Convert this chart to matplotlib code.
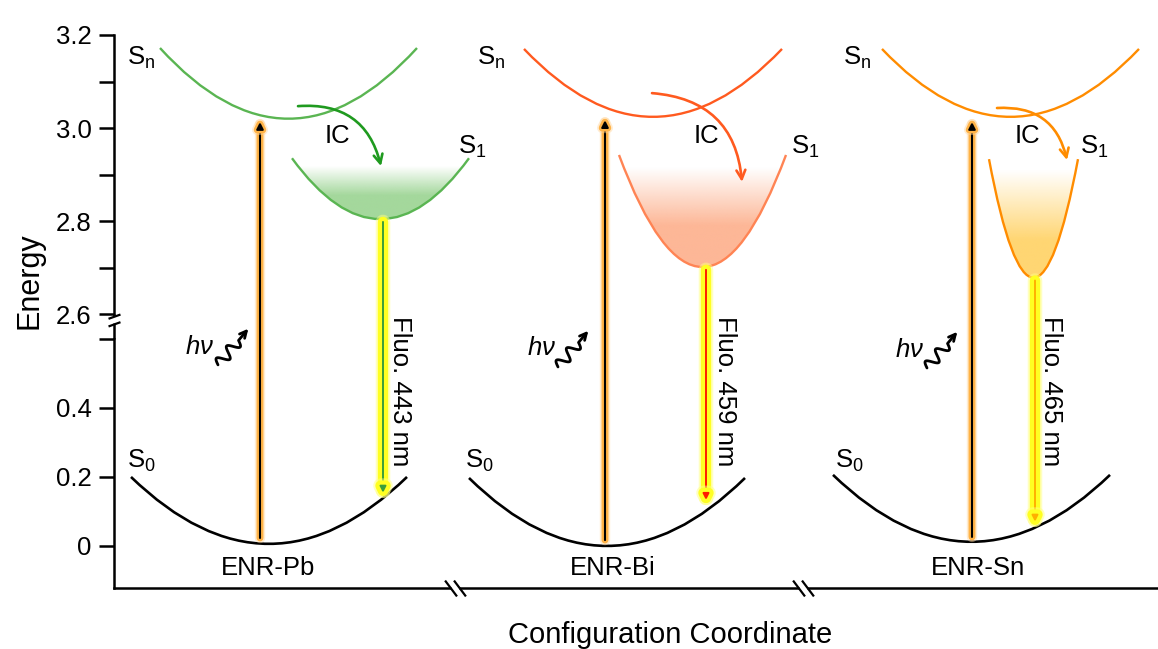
import matplotlib
matplotlib.use("Agg")
import matplotlib.pyplot as plt
import numpy as np
from matplotlib.path import Path
from matplotlib.patches import PathPatch, ConnectionPatch, FancyArrowPatch
from matplotlib.colors import to_rgb
import matplotlib.patheffects as pe
import matplotlib.transforms as mtransforms

plt.rcParams['font.family'] = ['Liberation Sans', 'DejaVu Sans']
plt.rcParams['mathtext.fontset'] = 'custom'
plt.rcParams['mathtext.rm'] = 'Liberation Sans'
plt.rcParams['mathtext.it'] = 'Liberation Sans:italic'

# --- data (x = configuration coordinate, a.u.; E = energy) ---
compounds = ['ENR-Pb', 'ENR-Bi', 'ENR-Sn']
fluo_nm = [443, 459, 465]

# Sn potential curves: left end x, right end x, end energy, minimum energy
sn_left = [0.46, 4.10, 7.68]
sn_right = [3.03, 6.68, 10.25]
sn_end = [3.172, 3.170, 3.170]
sn_min = [3.020, 3.024, 3.024]

# S1 potential curves
s1_left = [1.78, 5.05, 8.75]
s1_right = [3.55, 6.72, 9.64]
s1_end = [2.935, 2.942, 2.933]
s1_min = [2.804, 2.701, 2.678]
s1_fill_top = [2.918, 2.914, 2.910]
s1_fill_full = [2.855, 2.790, 2.760]

# S0 potential curves
s0_left = [0.17, 3.55, 7.19]
s0_right = [2.93, 6.31, 9.96]
s0_end = [0.200, 0.197, 0.206]
s0_min = [0.006, 0.000, 0.012]

# excitation (absorption) arrows
exc_x = [1.46, 4.91, 8.58]
exc_bottom = [0.023, 0.017, 0.026]
exc_top = [3.013, 3.017, 3.013]

# fluorescence arrows
fluo_x = [2.69, 5.92, 9.21]
fluo_top = [2.798, 2.695, 2.672]
fluo_bottom = [0.154, 0.133, 0.070]
fluo_text_x = [2.86, 6.11, 9.37]

# internal conversion arrows
ic_start_x = [1.84, 5.38, 8.83]
ic_start_e = [3.047, 3.075, 3.043]
ic_end_x = [2.67, 6.28, 9.53]
ic_end_e = [2.918, 2.884, 2.931]
ic_text_x = [2.23, 5.92, 9.13]

# label positions
sn_lab_x = [0.13, 3.63, 7.29]
s1_lab_x = [3.44, 6.77, 9.66]
s0_lab_x = [0.13, 3.51, 7.21]
name_x = [1.54, 4.99, 8.64]
hv_text_x = [0.86, 4.28, 7.96]
hv_text_e = [0.577, 0.574, 0.568]
hv_arrow_x = [1.04, 4.44, 8.13]
hv_arrow_e = [0.525, 0.519, 0.516]

x_breaks = [3.41, 6.89]

# --- styles ---
sn_colors = ['#5ab552', '#ff5a1f', '#ff8c00']
s1_colors = ['#5ab552', '#ff8454', '#ff8c00']
ic_colors = ['#1f9a1f', '#ff5a1f', '#ff8c00']
fill_colors = ['#a4d89c', '#fdb797', '#ffd673']
fluo_colors = ['#3a9e3a', '#ff1a00', '#ffb000']

W, H = 1158, 649
fig = plt.figure(figsize=(W / 100, H / 100), dpi=100)
ax_top = fig.add_axes([114 / W, 1 - 314 / H, 1044 / W, 279 / H])
ax_bot = fig.add_axes([114 / W, 1 - 588 / H, 1044 / W, 249 / H])

for ax in (ax_top, ax_bot):
    ax.set_xlim(0, 10.44)
    ax.set_xticks([])
    ax.spines['top'].set_visible(False)
    ax.spines['right'].set_visible(False)
    for s in ax.spines.values():
        s.set_linewidth(1.8)
    ax.tick_params(axis='y', direction='out', length=11, width=1.8, pad=5,
                   labelsize=18.5, which='both')
    ax.patch.set_visible(False)
ax_top.spines['bottom'].set_visible(False)

ax_top.set_ylim(2.6, 3.2)
ax_top.set_yticks([2.6, 2.8, 3.0, 3.2])
ax_top.set_yticks([2.7, 2.9, 3.1], minor=True)
ax_top.set_yticklabels(['2.6', '2.8', '3.0', '3.2'])
ax_bot.set_ylim(-0.122, 0.6)
ax_bot.set_yticks([0, 0.2, 0.4, 0.6])
ax_bot.set_yticklabels(['0', '0.2', '0.4', ''])


def parabola(xl, xr, e_end, e_min, closed=False):
    xc = (xl + xr) / 2
    verts = [(xl, e_end), (xc, 2 * e_min - e_end), (xr, e_end)]
    codes = [Path.MOVETO, Path.CURVE3, Path.CURVE3]
    if closed:
        verts.append((xl, e_end))
        codes.append(Path.CLOSEPOLY)
    return Path(verts, codes)


glow_exc = [pe.Stroke(linewidth=7.5, foreground='#ffd59a', alpha=0.45, capstyle='round'),
            pe.Stroke(linewidth=5, foreground='#ffb347', capstyle='round'),
            pe.Normal()]
glow_fluo = [pe.Stroke(linewidth=10.5, foreground='#ffff80', alpha=0.5, capstyle='round'),
             pe.Stroke(linewidth=7.5, foreground='#ffff22', capstyle='round'),
             pe.Normal()]

for i, name in enumerate(compounds):
    # Sn curve
    ax_top.add_patch(PathPatch(parabola(sn_left[i], sn_right[i], sn_end[i], sn_min[i]),
                               fill=False, edgecolor=sn_colors[i], lw=1.7, zorder=3))
    # S1 curve with gradient fill
    clip = PathPatch(parabola(s1_left[i], s1_right[i], s1_end[i], s1_min[i], closed=True),
                     facecolor='none', edgecolor='none')
    ax_top.add_patch(clip)
    e = np.linspace(s1_min[i], s1_end[i], 200)
    alpha = np.clip((s1_fill_top[i] - e) / (s1_fill_top[i] - s1_fill_full[i]), 0, 1)
    rgba = np.zeros((len(e), 1, 4))
    rgba[:, 0, :3] = to_rgb(fill_colors[i])
    rgba[:, 0, 3] = alpha
    im = ax_top.imshow(rgba, extent=[s1_left[i], s1_right[i], s1_min[i], s1_end[i]],
                       origin='lower', aspect='auto', interpolation='bilinear', zorder=1)
    im.set_clip_path(clip)
    ax_top.add_patch(PathPatch(parabola(s1_left[i], s1_right[i], s1_end[i], s1_min[i]),
                               fill=False, edgecolor=s1_colors[i], lw=1.7, zorder=3))
    # S0 curve
    ax_bot.add_patch(PathPatch(parabola(s0_left[i], s0_right[i], s0_end[i], s0_min[i]),
                               fill=False, edgecolor='black', lw=1.9, zorder=3))

    # excitation arrow (crosses the axis break)
    con = ConnectionPatch(xyA=(exc_x[i], exc_bottom[i]), coordsA=ax_bot.transData,
                          xyB=(exc_x[i], exc_top[i]), coordsB=ax_top.transData,
                          arrowstyle='-|>', mutation_scale=10, lw=1.5, color='black',
                          zorder=5, path_effects=glow_exc)
    fig.add_artist(con)
    # fluorescence arrow
    con = ConnectionPatch(xyA=(fluo_x[i], fluo_top[i]), coordsA=ax_top.transData,
                          xyB=(fluo_x[i], fluo_bottom[i]), coordsB=ax_bot.transData,
                          arrowstyle='-|>', mutation_scale=9, lw=1.4, color=fluo_colors[i],
                          zorder=5, path_effects=glow_fluo)
    fig.add_artist(con)
    ax_bot.text(fluo_text_x[i], 0.449, f'Fluo. {fluo_nm[i]} nm', rotation=270,
                ha='center', va='center', fontsize=18.5, zorder=6)

    # internal conversion
    ax_top.annotate('', xy=(ic_end_x[i], ic_end_e[i]), xytext=(ic_start_x[i], ic_start_e[i]),
                    arrowprops=dict(arrowstyle='->', connectionstyle='arc3,rad=-0.42',
                                    color=ic_colors[i], lw=1.9, mutation_scale=16,
                                    shrinkA=0, shrinkB=0), zorder=4)
    ax_top.text(ic_text_x[i], 2.982, 'IC', ha='center', va='center', fontsize=18.5)

    # state labels
    ax_top.text(sn_lab_x[i], 3.151, r'S$_\mathrm{n}$', ha='left', va='center', fontsize=18.5)
    ax_top.text(s1_lab_x[i], 2.959, r'S$_\mathrm{1}$', ha='left', va='center', fontsize=18.5)
    ax_bot.text(s0_lab_x[i], 0.246, r'S$_\mathrm{0}$', ha='left', va='center', fontsize=18.5)
    ax_bot.text(name_x[i], -0.064, name, ha='center', va='center', fontsize=18.5)

    # h-nu with wavy photon arrow
    ax_bot.text(hv_text_x[i], hv_text_e[i], r'$h\nu$', ha='center', va='center',
                fontsize=18.5, clip_on=False)
    s = np.linspace(0, 1, 80)
    verts = list(zip(23 * s, 4.0 * np.sin(2 * np.pi * 2 * s))) + [(34, 0)]
    trans = (mtransforms.Affine2D().scale(fig.dpi / 72).rotate_deg(50)
             + mtransforms.ScaledTranslation(hv_arrow_x[i], hv_arrow_e[i], ax_bot.transData))
    fig.add_artist(FancyArrowPatch(path=Path(verts), arrowstyle='->', mutation_scale=12,
                                   lw=2.0, color='black', transform=trans))

# --- axis breaks ---
# y-axis: extend spines into the gap and add "//"
ax_top.plot([0, 0], [0, -2 / 279], transform=ax_top.transAxes, color='k', lw=1.8,
            clip_on=False, solid_capstyle='butt')
ax_bot.plot([0, 0], [1, 1 + 16 / 249], transform=ax_bot.transAxes, color='k', lw=1.8,
            clip_on=False, solid_capstyle='butt')
ybreak = Path([(-6, 1.7), (6, 6), (-6, -6), (6, -1.7)],
              [Path.MOVETO, Path.LINETO, Path.MOVETO, Path.LINETO])
ax_bot.plot([0], [1 + 19 / 249], transform=ax_bot.transAxes, marker=ybreak, ms=8.6,
            mew=1.6, color='k', clip_on=False, zorder=10)
# x-axis: white gap plus "\\"
xbreak = Path([(-10.5, 8), (1.5, -8), (-1.5, 8), (10.5, -8)],
              [Path.MOVETO, Path.LINETO, Path.MOVETO, Path.LINETO])
ax_bot.plot(x_breaks, [0, 0], transform=ax_bot.get_xaxis_transform(), ls='none',
            marker='_', ms=6, mew=5, color='white', clip_on=False, zorder=10)
ax_bot.plot(x_breaks, [0, 0], transform=ax_bot.get_xaxis_transform(), ls='none',
            marker=xbreak, ms=15, mew=1.6, color='k', clip_on=False, zorder=11)

fig.text(30 / W, 1 - 281 / H, 'Energy', rotation=90, ha='center', va='center', fontsize=22)
fig.text(670 / W, 1 - 635 / H, 'Configuration Coordinate', ha='center', va='center',
         fontsize=21)

fig.savefig('out.png', dpi=100)
